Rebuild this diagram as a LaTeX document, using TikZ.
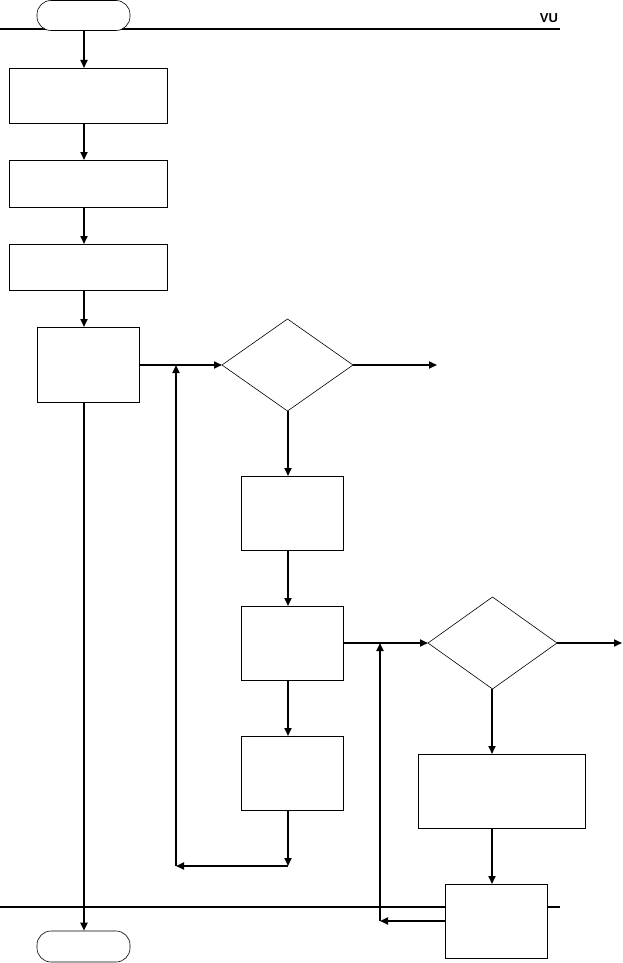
\documentclass[tikz,border=0pt]{standalone}
\usepackage{fontspec}
\setmainfont{Liberation Sans}
\usetikzlibrary{arrows.meta}
\begin{document}
\begin{tikzpicture}[x=1pt,y=-1pt,
  box/.style={draw,line width=0.8pt,fill=white,anchor=north west,inner sep=0pt},
  term/.style={draw,line width=0.6pt,fill=white,rounded corners=14pt,minimum width=93pt,inner sep=0pt},
  conn/.style={line width=1.8pt,-{Triangle[length=8pt,width=7pt]}},
  rule/.style={line width=2pt}]
\useasboundingbox (0,0) rectangle (623,963);
% horizontal rules
\draw[rule] (0,29) -- (560,29);
\draw[rule] (0,907) -- (560,907);
\node[font=\bfseries\fontsize{13}{15}\selectfont,inner sep=0pt] (vu) at (549,18) {VU};
% terminals
\node[term,minimum height=30pt] (start) at (83.5,15.5) {};
\node[term,minimum height=31pt] (stop) at (83.5,946.5) {};
% boxes
\node[box,minimum width=158pt,minimum height=55pt] (b1) at (9,68) {};
\node[box,minimum width=158pt,minimum height=47pt] (b2) at (9,160) {};
\node[box,minimum width=158pt,minimum height=46pt] (b3) at (9,244) {};
\node[box,minimum width=102pt,minimum height=75pt] (b4) at (37,327) {};
\node[box,minimum width=102pt,minimum height=74pt] (b5) at (241,476) {};
\node[box,minimum width=102pt,minimum height=74pt] (b6) at (241,606) {};
\node[box,minimum width=102pt,minimum height=74pt] (b7) at (241,736) {};
\node[box,minimum width=167pt,minimum height=74pt] (b8) at (418,754) {};
\node[box,minimum width=102pt,minimum height=74pt] (b9) at (445,884) {};
% diamonds
\draw[line width=0.6pt,fill=white] (222,365) -- (287.5,319) -- (353,365) -- (287.5,411) -- cycle;
\coordinate (d1w) at (222,365); \coordinate (d1e) at (353,365); \coordinate (d1s) at (288,411);
\draw[line width=0.6pt,fill=white] (428,643) -- (492.5,597) -- (557,643) -- (492.5,689) -- cycle;
\coordinate (d2w) at (428,643); \coordinate (d2e) at (557,643); \coordinate (d2s) at (492,689);
% column coordinates
\coordinate (cl) at (84,0);
\coordinate (cm) at (288,0);
% free ends
\coordinate (o1) at (437,365);
\coordinate (o2) at (622,643);
\coordinate (l1b) at (288,866);
\coordinate (l1c) at (176,866);
\coordinate (l1t) at (176,365);
\coordinate (l2b) at (380,921);
\coordinate (l2t) at (380,643);
% connectors
\draw[conn] (cl |- start.south) -- (cl |- b1.north);
\draw[conn] (cl |- b1.south) -- (cl |- b2.north);
\draw[conn] (cl |- b2.south) -- (cl |- b3.north);
\draw[conn] (cl |- b3.south) -- (cl |- b4.north);
\draw[conn] (b4.east |- d1w) -- (d1w);
\draw[conn] (d1e) -- (o1);
\draw[conn] (d1s) -- (cm |- b5.north);
\draw[conn] (cm |- b5.south) -- (cm |- b6.north);
\draw[conn] (cm |- b6.south) -- (cm |- b7.north);
\draw[conn] (b6.east |- d2w) -- (d2w);
\draw[conn] (d2e) -- (o2);
\draw[conn] (d2s) -- (d2s |- b8.north);
\draw[conn] (d2s |- b8.south) -- (d2s |- b9.north);
\draw[conn] (cm |- b7.south) -- (l1b);
\draw[conn] (l1b) -- (l1c);
\draw[conn] (l1c) -- (l1t);
\draw[conn] (b9.west |- l2b) -- (l2b);
\draw[conn] (l2b) -- (l2t);
\draw[conn] (cl |- b4.south) -- (cl |- stop.north);
\end{tikzpicture}
\end{document}
